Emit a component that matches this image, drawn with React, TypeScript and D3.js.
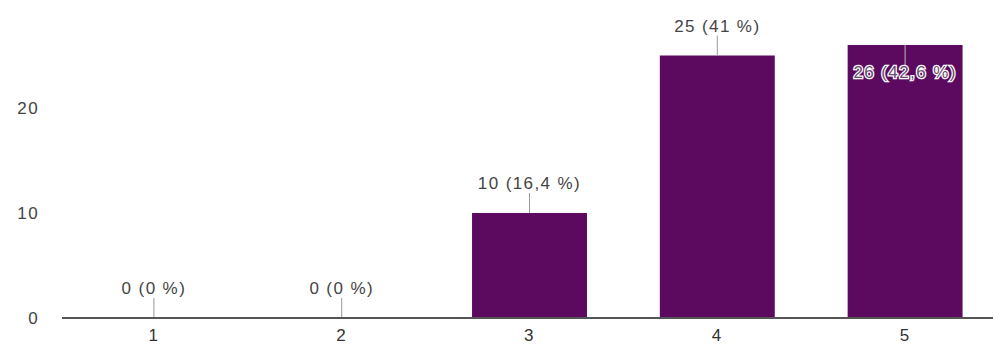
import React from "react";
import * as d3 from "d3";

const categories = ["1", "2", "3", "4", "5"];
const counts = [0, 0, 10, 25, 26];
const percents = ["0 %", "0 %", "16,4 %", "41 %", "42,6 %"];
const yTicks = [0, 10, 20];

const W = 994;
const H = 349;

export default function App() {
  const x = d3.scaleBand<string>().domain(categories).range([60, 999]).paddingInner(0.388).paddingOuter(0.194);
  const y = d3.scaleLinear().domain([0, 30]).range([318, 3]);
  const font = "Arial, 'Liberation Sans', sans-serif";
  const txt = { fontFamily: font, fontSize: 17, letterSpacing: 1.4 } as const;

  return (
    <svg width={W} height={H} style={{ position: "fixed", left: 0, top: 0, background: "#fff" }}>
      {yTicks.map((t) => (
        <text key={t} x={39} y={y(t) + 6} textAnchor="end" fill="#444" style={txt}>
          {t}
        </text>
      ))}
      {categories.map((c, i) => {
        const v = counts[i];
        const x0 = x(c)!;
        const cx = x0 + x.bandwidth() / 2;
        const top = y(v);
        const inside = top - 30 < 20;
        const label = `${v} (${percents[i]})`;
        const base = inside ? top + 33 : top - 24;
        return (
          <g key={c}>
            {v > 0 && <rect x={x0} y={top} width={x.bandwidth()} height={y(0) - top} fill="#5c0a60" />}
            {inside ? (
              <line x1={cx} x2={cx} y1={top} y2={base - 13} stroke="#bbb" strokeWidth={1} />
            ) : (
              <line x1={cx} x2={cx} y1={base + 4} y2={top} stroke="#999" strokeWidth={1} />
            )}
            <text
              x={cx}
              y={base}
              textAnchor="middle"
              fill={inside ? "#6a4a70" : "#444"}
              stroke="#fff"
              strokeWidth={inside ? 2.5 : 3}
              paintOrder="stroke"
              style={txt}
            >
              {label}
            </text>
            <text x={cx} y={341} textAnchor="middle" fill="#333" style={txt}>
              {c}
            </text>
          </g>
        );
      })}
      <line x1={62} x2={993} y1={y(0)} y2={y(0)} stroke="#555" strokeWidth={2} />
    </svg>
  );
}
